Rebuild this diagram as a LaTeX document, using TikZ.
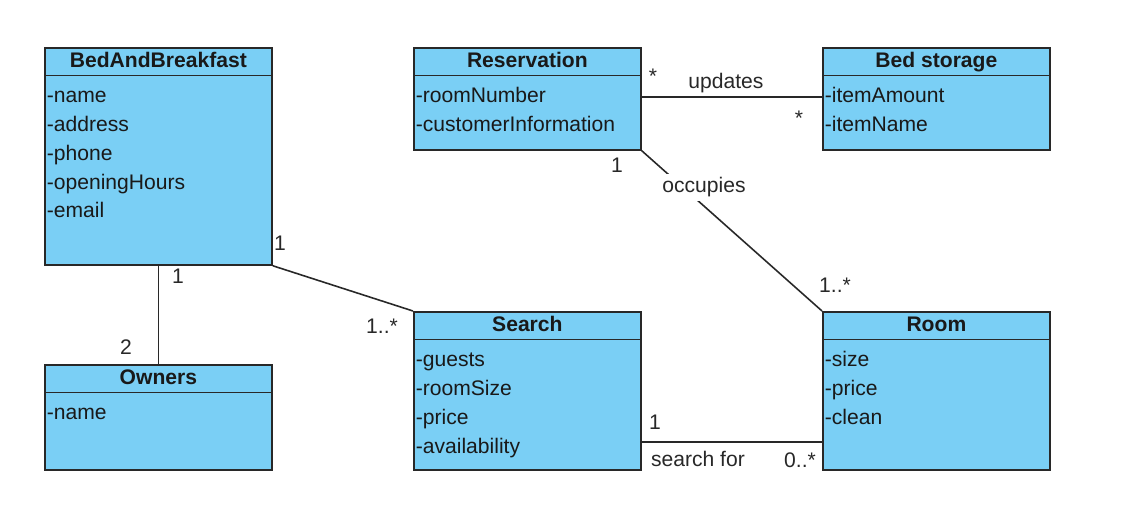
\documentclass[tikz,border=0pt]{standalone}
\usepackage{fontspec}
\setmainfont{Liberation Sans}
\definecolor{umlblue}{RGB}{122,207,245}
\definecolor{umlline}{RGB}{40,40,40}
\definecolor{umltext}{RGB}{25,25,25}

\begin{document}
\begin{tikzpicture}[
    umlclass/.style={rectangle, draw=umlline, fill=umlblue, line width=1pt, inner sep=0pt, anchor=north west, minimum width=4.54cm},
    classname/.style={font=\fontsize{12}{14}\selectfont\bfseries, text=umltext, text height=0.28cm, text depth=0.04cm, inner sep=0pt},
    attr/.style={font=\fontsize{12}{14}\selectfont, text=umltext, anchor=base west, inner sep=0pt},
    assoc/.style={draw=umlline, line width=0.9pt},
    mult/.style={font=\fontsize{12}{14}\selectfont, text=umlline, anchor=base, inner sep=1pt},
    role/.style={mult, fill=white, inner sep=2pt}
]
    \useasboundingbox (0,0) rectangle (22.62,-10.2);

    % Classes
    \node[umlclass, minimum height=4.34cm] (bnb) at (0.88,-0.94) {};
    \node[umlclass, minimum height=2.04cm] (res) at (8.26,-0.94) {};
    \node[umlclass, minimum height=2.04cm] (bed) at (16.44,-0.94) {};
    \node[umlclass, minimum height=2.10cm] (own) at (0.88,-7.28) {};
    \node[umlclass, minimum height=3.16cm] (search) at (8.26,-6.22) {};
    \node[umlclass, minimum height=3.16cm] (room) at (16.44,-6.22) {};

    \foreach \c in {bnb,res,bed,own,search,room}
        \draw[umlline, line width=1pt] ([yshift=-0.57cm]\c.north west) -- ([yshift=-0.57cm]\c.north east);

    % Class names
    \node[classname] (bnb-name) at ([yshift=-0.3cm]bnb.north) {BedAndBreakfast};
    \node[classname] (res-name) at ([yshift=-0.3cm]res.north) {Reservation};
    \node[classname] (bed-name) at ([yshift=-0.3cm]bed.north) {Bed storage};
    \node[classname] (own-name) at ([yshift=-0.3cm]own.north) {Owners};
    \node[classname] (search-name) at ([yshift=-0.3cm]search.north) {Search};
    \node[classname] (room-name) at ([yshift=-0.3cm]room.north) {Room};

    % Attributes
    \foreach \a [count=\i] in {-name,-address,-phone,-openingHours,-email}
        \node[attr] (bnb-\i) at ([xshift=0.05cm, yshift={-1.12cm-(\i-1)*0.575cm}]bnb.north west) {\a};
    \foreach \a [count=\i] in {-roomNumber,-customerInformation}
        \node[attr] (res-\i) at ([xshift=0.05cm, yshift={-1.12cm-(\i-1)*0.575cm}]res.north west) {\a};
    \foreach \a [count=\i] in {-itemAmount,-itemName}
        \node[attr] (bed-\i) at ([xshift=0.05cm, yshift={-1.12cm-(\i-1)*0.575cm}]bed.north west) {\a};
    \foreach \a [count=\i] in {-name}
        \node[attr] (own-\i) at ([xshift=0.05cm, yshift={-1.12cm-(\i-1)*0.575cm}]own.north west) {\a};
    \foreach \a [count=\i] in {-guests,-roomSize,-price,-availability}
        \node[attr] (search-\i) at ([xshift=0.05cm, yshift={-1.12cm-(\i-1)*0.575cm}]search.north west) {\a};
    \foreach \a [count=\i] in {-size,-price,-clean}
        \node[attr] (room-\i) at ([xshift=0.05cm, yshift={-1.12cm-(\i-1)*0.575cm}]room.north west) {\a};

    % Associations
    \draw[assoc] (bnb.south) -- (own.north);
    \draw[assoc] (bnb.south east) -- (search.north west);
    \draw[assoc] ([yshift=0.04cm]res.east) -- ([yshift=0.04cm]bed.west);
    \draw[assoc] (res.south east) -- (room.north west);
    \draw[assoc] ([yshift=-1.02cm]search.east) -- ([yshift=-1.02cm]room.west);

    % Multiplicities and labels
    \node[mult] (m-bnb-own) at (3.56,-5.68) {1};
    \node[mult] (m-own) at (2.52,-7.10) {2};
    \node[mult] (m-bnb-search) at (5.60,-5.02) {1};
    \node[mult] (m-search) at (7.64,-6.68) {1..*};
    \node[mult] (m-res-bed) at (13.06,-1.68) {*};
    \node[mult] (l-updates) at (14.52,-1.78) {updates};
    \node[mult] (m-bed) at (15.98,-2.52) {*};
    \node[mult] (m-res-room) at (12.34,-3.46) {1};
    \node[role] (l-occupies) at (14.08,-3.86) {occupies};
    \node[mult] (m-room) at (16.70,-5.86) {1..*};
    \node[mult] (m-search-room) at (13.10,-8.60) {1};
    \node[mult] (l-searchfor) at (13.96,-9.34) {search for};
    \node[mult] (m-room-search) at (16.00,-9.36) {0..*};
\end{tikzpicture}
\end{document}
